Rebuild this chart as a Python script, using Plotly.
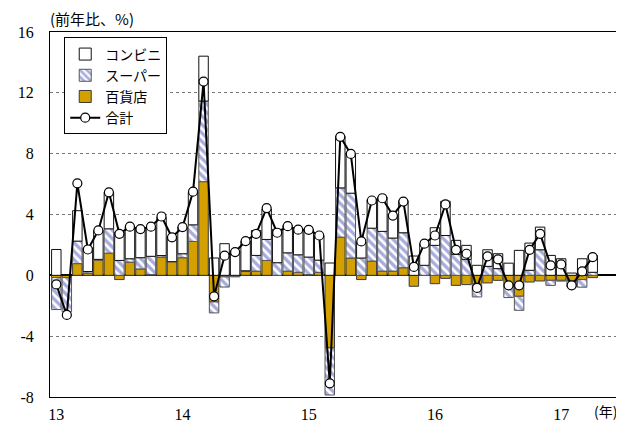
import plotly.graph_objects as go

# Monthly, Jan 2013 - Apr 2017 (index 0..51), y/y % contributions
months = list(range(52))

dept = [
    -0.15, -0.15, 0.77, 0.15, 1.0, 1.46, -0.28, 0.87, 0.42, 0.05, 1.2, 0.9,
    1.16, 2.23, 6.16, -1.75, -0.1, -0.05, 0.25, 0.28, 0.98, 0.0, 0.28, 0.2,
    0.05, 0.2, -4.77, 2.51, 1.14, -0.28, 0.94, 0.28, 0.28, 0.5, -0.72, 0.0,
    -0.55, -0.2, -0.66, -0.61, -0.55, -0.5, -0.33, -0.77, -1.38, -0.44, -0.37, -0.33,
    -0.33, -0.37, -0.28, -0.15,
]
superm = [
    -2.1, -2.25, 1.48, 0.1, 0.05, 1.6, 0.98, 0.22, 0.74, 1.2, 0.1, 0.0,
    0.26, 1.09, 5.3, -0.72, -0.67, -0.05, 0.05, 1.03, 1.38, 0.83, 1.2, 1.15,
    1.15, 0.8, -3.1, 3.24, 4.26, 1.14, 2.16, 2.61, 2.17, 2.3, 0.0, 0.66,
    1.97, 2.62, 1.38, 1.05, -0.87, 0.59, 0.44, -0.69, -0.92, 0.33, 1.68, -0.33,
    -0.05, -0.4, -0.5, 0.2,
]
conv = [
    1.7, 0.0, 2.0, 1.55, 1.9, 2.4, 1.86, 2.1, 1.9, 1.87, 2.5, 1.6,
    1.75, 2.15, 2.95, 1.14, 2.08, 1.6, 1.95, 1.64, 2.0, 2.2, 1.8, 1.65,
    1.8, 1.6, 0.81, 3.4, 2.58, 1.05, 1.88, 2.25, 1.5, 2.1, 1.27, 1.42,
    1.16, 2.25, 0.92, 0.92, 0.66, 1.09, 0.98, 0.8, 1.64, 1.79, 1.49, 1.31,
    1.09, 0.15, 1.09, 1.1,
]
total = [
    -0.6, -2.6, 6.05, 1.7, 2.95, 5.46, 2.73, 3.2, 3.04, 3.2, 3.87, 2.5,
    3.17, 5.5, 12.74, -1.38, 1.29, 1.53, 2.25, 2.73, 4.42, 2.8, 3.23, 3.0,
    2.99, 2.62, -7.1, 9.11, 7.98, 2.23, 4.92, 5.07, 3.93, 4.85, 0.55, 2.08,
    2.62, 4.66, 1.68, 1.42, -0.83, 1.25, 1.05, -0.66, -0.66, 1.68, 2.73, 0.66,
    0.72, -0.66, 0.26, 1.2,
]

year_tick_pos = [0, 12, 24, 36, 48]
year_tick_text = ["13", "14", "15", "16", "17"]
y_ticks = [-8, -4, 0, 4, 8, 12, 16]
y_tick_text = ["-8", "-4", "0", "4", "8", "12", "16"]

GOLD = "#D4A000"
HATCH = "#4F59B8"
JP = "Noto Sans CJK JP"
SERIF = "Times New Roman, Liberation Serif, serif"

fig = go.Figure()
fig.add_trace(go.Bar(
    x=months, y=dept, name="百貨店", legendrank=3,
    marker=dict(color=GOLD, line=dict(color="#3a3a3a", width=1)),
))
fig.add_trace(go.Bar(
    x=months, y=superm, name="スーパー", legendrank=2,
    marker=dict(color="white", line=dict(color="#555555", width=1),
                pattern=dict(shape="\\", fgcolor=HATCH, bgcolor="white",
                             size=6, solidity=0.55)),
))
fig.add_trace(go.Bar(
    x=months, y=conv, name="コンビニ", legendrank=1,
    marker=dict(color="white", line=dict(color="#111111", width=1)),
))
fig.add_trace(go.Scatter(
    x=months, y=total, name="合計", mode="lines+markers", legendrank=4,
    line=dict(color="black", width=2),
    marker=dict(symbol="circle", size=9, color="white",
                line=dict(color="black", width=1.2)),
))

# The page body adds an 8px offset, so the figure is sized to the visible area.
fig.update_layout(
    width=616, height=418,
    margin=dict(l=42, r=5, t=24, b=29),
    paper_bgcolor="white", plot_bgcolor="white",
    barmode="relative", bargap=0.1,
    showlegend=True,
    legend=dict(
        x=0.025, y=0.985, xanchor="left", yanchor="top",
        bordercolor="black", borderwidth=1, bgcolor="white",
        font=dict(family=JP, size=14, color="black"),
        tracegroupgap=0, itemwidth=30,
        entrywidth=98, entrywidthmode="pixels",
    ),
    font=dict(family=SERIF, color="black"),
)

fig.update_xaxes(
    range=[-0.6, 53.5], automargin=False,
    tickmode="array", tickvals=year_tick_pos, ticktext=year_tick_text,
    tickfont=dict(family=SERIF, size=16, color="black"),
    showgrid=False, zeroline=False,
    showline=True, linecolor="black", linewidth=1, mirror=True,
    ticks="", ticklabelstandoff=3,
)
fig.update_yaxes(
    range=[-8, 16], automargin=False,
    tickmode="array", tickvals=y_ticks, ticktext=y_tick_text,
    tickfont=dict(family=SERIF, size=16, color="black"),
    showgrid=True, gridcolor="#777777", griddash="dot", gridwidth=1,
    zeroline=True, zerolinecolor="black", zerolinewidth=2,
    showline=True, linecolor="black", linewidth=1, mirror=True,
    ticks="", ticklabelstandoff=12,
)

fig.add_annotation(
    text="(前年比、%)", xref="paper", yref="paper",
    x=-0.004, y=1.0, xanchor="left", yanchor="middle", yshift=14,
    showarrow=False, font=dict(family=JP, size=15, color="black"),
)
fig.add_annotation(
    text="(年)", xref="paper", yref="paper",
    x=1.0, y=0, xanchor="right", yanchor="middle", yshift=-14,
    showarrow=False, font=dict(family=JP, size=14, color="black"),
)

fig.write_html("out.html")
